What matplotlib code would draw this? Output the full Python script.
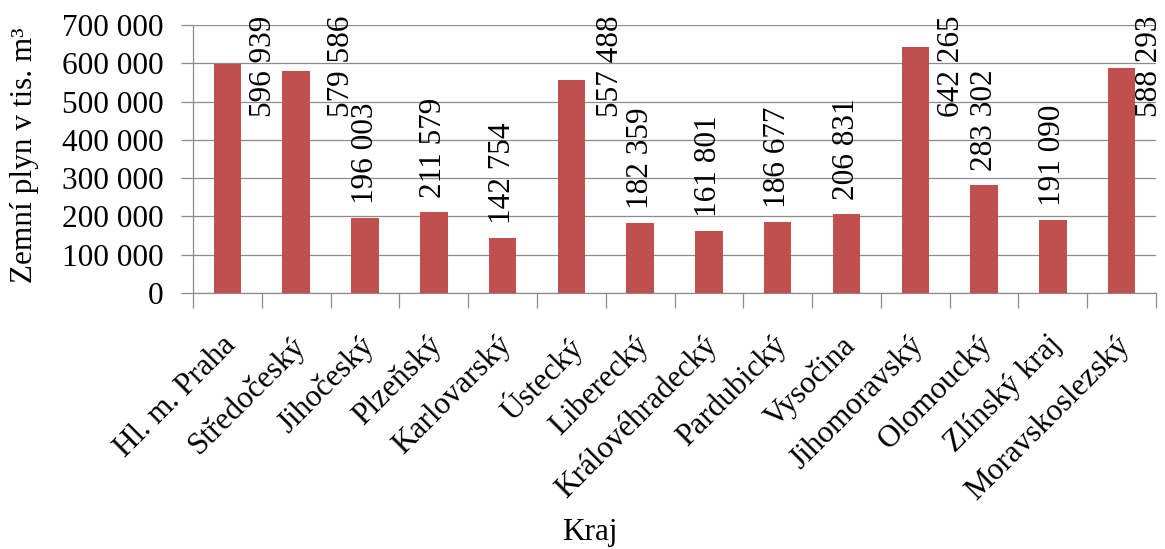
import numpy as np
import matplotlib.pyplot as plt
import matplotlib.transforms as mtransforms
from matplotlib.ticker import FixedLocator, FuncFormatter

plt.rcParams['font.family'] = ['Liberation Serif', 'DejaVu Serif']

# spotřeba zemního plynu podle krajů (tis. m3)
kraje = ['Hl. m. Praha', 'Středočeský', 'Jihočeský', 'Plzeňský', 'Karlovarský',
         'Ústecký', 'Liberecký', 'Královéhradecký', 'Pardubický', 'Vysočina',
         'Jihomoravský', 'Olomoucký', 'Zlínský kraj', 'Moravskoslezský']
spotreba = [596939, 579586, 196003, 211579, 142754, 557488, 182359,
            161801, 186677, 206831, 642265, 283302, 191090, 588293]

bar_color = '#C0504D'
grid_color = '#8C8C8C'
fs = 22.5

fig = plt.figure(figsize=(11.65, 5.49), dpi=100)
ax = fig.add_axes([0.1657, 0.4663, 0.8266, 0.4882])

x = np.arange(len(kraje))
ax.bar(x, spotreba, width=0.4, color=bar_color, zorder=3)

ax.set_xlim(-0.5, len(kraje) - 0.5)
ax.set_ylim(0, 700000)
ax.set_yticks(np.arange(0, 700001, 100000))
ax.yaxis.set_major_formatter(FuncFormatter(lambda v, p: f'{v:,.0f}'.replace(',', ' ')))
ax.grid(axis='y', color=grid_color, linewidth=0.9, zorder=0)
ax.tick_params(axis='y', length=9, width=0.9, color=grid_color, labelsize=fs, pad=12)

# kategorie: popisky uprostřed, značky na hranicích
ax.set_xticks(x)
ax.set_xticklabels(kraje, rotation=45, ha='right', va='top',
                   rotation_mode='anchor', fontsize=fs)
ax.xaxis.set_minor_locator(FixedLocator(np.arange(-0.5, len(kraje), 1)))
ax.tick_params(axis='x', which='major', length=0, pad=27)
ax.tick_params(axis='x', which='minor', length=11, width=0.9, color=grid_color)
shift = mtransforms.ScaledTranslation(-6 / 100, 0, fig.dpi_scale_trans)
for lbl in ax.get_xticklabels():
    lbl.set_transform(lbl.get_transform() + shift)

for side in ['top', 'right']:
    ax.spines[side].set_visible(False)
for side in ['left', 'bottom']:
    ax.spines[side].set_color(grid_color)
    ax.spines[side].set_linewidth(0.9)

# hodnoty nad sloupci; vysoké sloupce mají popisek vedle
side_shift = {0: 0.52, 1: 0.66, 5: 0.57, 10: 0.53, 13: 0.41}
top_trans = mtransforms.blended_transform_factory(ax.transData, ax.transAxes)
for i, v in enumerate(spotreba):
    txt = f'{v:,}'.replace(',', ' ')
    if i in side_shift:
        ax.text(i + side_shift[i], 0.847, txt, transform=top_trans, rotation=90,
                ha='center', va='center', fontsize=fs, clip_on=False, zorder=4)
    else:
        ax.annotate(txt, (i, v), xytext=(0, 10), textcoords='offset points',
                    rotation=90, ha='center', va='bottom', fontsize=fs, zorder=4)

fig.text(0.021, 0.718, 'Zemní plyn v tis. m³', rotation=90,
         ha='center', va='center', fontsize=fs)
fig.text(0.506, 0.017, 'Kraj', ha='center', va='baseline', fontsize=fs)

fig.savefig('out.png', dpi=100)
